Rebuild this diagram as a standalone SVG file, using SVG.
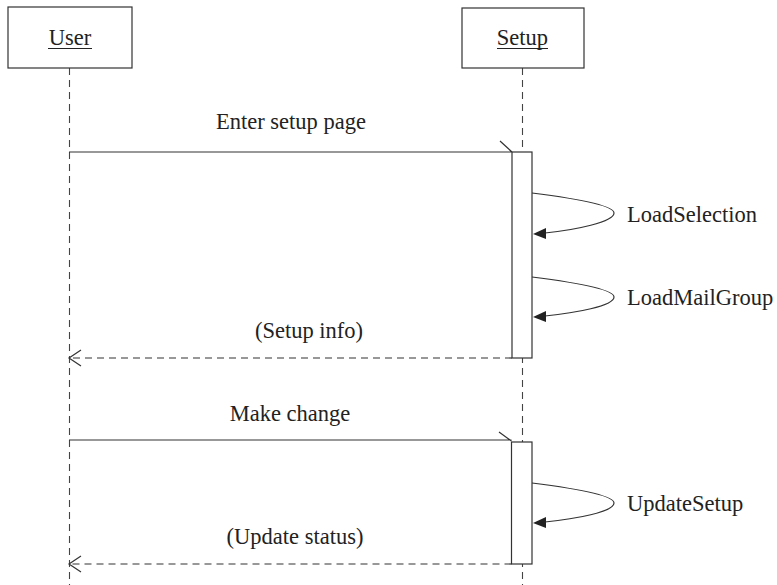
<svg xmlns="http://www.w3.org/2000/svg" width="777" height="585" viewBox="0 0 777 585">
<defs>
<style>
.box{fill:#fff;stroke:#333;stroke-width:1.2}
.life{stroke:#444;stroke-width:1.1;stroke-dasharray:7 5;fill:none}
.msg{stroke:#333;stroke-width:1.2;fill:none}
.ret{stroke:#333;stroke-width:1.2;fill:none;stroke-dasharray:7 5}
.loop{stroke:#333;stroke-width:1.2;fill:none}
.act{fill:#fff;stroke:#333;stroke-width:1.2}
text{font-family:"Liberation Serif","Times New Roman",serif;font-size:22.5px;fill:#222}
.c{text-anchor:middle}
</style>
<marker id="fill" markerWidth="14" markerHeight="12" refX="1" refY="5" orient="auto" markerUnits="userSpaceOnUse" viewBox="0 0 14 10">
<path d="M0,5 L13,0 L13,10 Z" fill="#222"/>
</marker>
</defs>
<rect width="777" height="585" fill="#fff"/>
<g id="lifelines">
<line class="life" x1="69.5" y1="68" x2="69.5" y2="585"/>
<line class="life" x1="522.5" y1="68" x2="522.5" y2="585"/>
</g>
<g id="user">
<rect class="box" x="8" y="7" width="124" height="61"/>
<text class="c" x="70" y="45">User</text>
<line x1="48" y1="48.5" x2="92" y2="48.5" stroke="#222" stroke-width="1.2"/>
</g>
<g id="setup">
<rect class="box" x="462" y="8" width="122" height="60"/>
<text class="c" x="522.5" y="45">Setup</text>
<line x1="497" y1="48.5" x2="548" y2="48.5" stroke="#222" stroke-width="1.2"/>
</g>
<g id="activation1">
<rect class="act" x="512" y="152" width="20" height="206"/>
</g>
<g id="activation2">
<rect class="act" x="511.5" y="442" width="20.5" height="122"/>
</g>
<g id="connectors">
<path class="msg" d="M69,152 H512 M500,141 L512,152"/>
<path class="loop" d="M532,193 C572,198 614,205 614,213 C614,222 575,230 545,233" />
<path d="M533,234 L546,228 L546,239 Z" fill="#222"/>
<path class="loop" d="M532,277 C572,282 614,289 614,297 C614,306 575,313 545,316" />
<path d="M533,317 L546,311 L546,322 Z" fill="#222"/>
<path class="ret" d="M512,358 H70"/>
<path class="msg" d="M81,350 L69,358 L81,366"/>
<path class="msg" d="M69,440 H511.5 M499,432 L511.5,441"/>
<path class="loop" d="M532,483 C572,488 614,495 614,503 C614,512 575,519 545,522" />
<path d="M533,523 L546,517 L546,528 Z" fill="#222"/>
<path class="ret" d="M511.5,564 H70"/>
<path class="msg" d="M81,556 L69,564 L81,572"/>
</g>
<g id="labels">
<text class="c" x="291" y="129">Enter setup page</text>
<text x="627" y="222">LoadSelection</text>
<text x="627" y="305">LoadMailGroup</text>
<text class="c" x="309" y="338">(Setup info)</text>
<text class="c" x="290" y="421">Make change</text>
<text x="627" y="511">UpdateSetup</text>
<text class="c" x="295" y="544">(Update status)</text>
</g>
</svg>
